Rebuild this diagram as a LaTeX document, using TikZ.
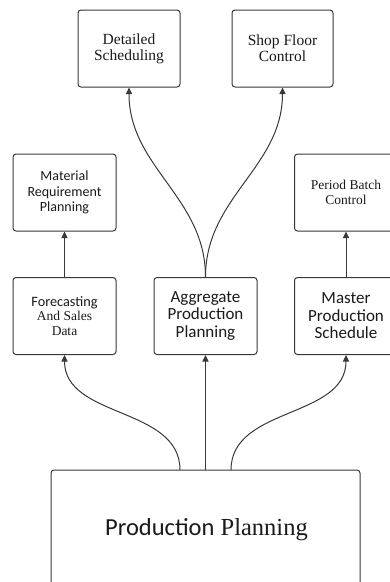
\documentclass[tikz,border=0pt]{standalone}
\usepackage{fontspec}
\setmainfont{Liberation Serif}
\newfontfamily\sansf{Carlito}
\usetikzlibrary{arrows.meta}
\definecolor{edge}{HTML}{383838}
\definecolor{ink}{HTML}{1A1A1A}
\tikzset{
  box/.style={draw=edge, line width=1pt, rounded corners=3pt, fill=white,
    minimum width=103pt, minimum height=77pt, align=center, text=ink,
    inner sep=1pt},
  link/.style={draw=edge, line width=1pt,
    -{Triangle[length=6.5pt, width=6pt]}},
  serifm/.style={font=\rmfamily\fontsize{15.5}{16}\selectfont},
  serifs/.style={font=\rmfamily\fontsize{13.5}{14.5}\selectfont},
  sanss/.style={font=\sansf\fontsize{14}{15.5}\selectfont},
  sansl/.style={font=\sansf\fontsize{17}{17.5}\selectfont},
}
\begin{document}
\begin{tikzpicture}[x=1pt, y=-1pt]
  \useasboundingbox (0,0) rectangle (390,582);
  \clip (0,0) rectangle (390,582);

  % top row
  \node[box, serifm, minimum width=102pt] (ds) at (129,48.5)
    {Detailed\\Scheduling};
  \node[box, serifm, minimum width=101pt] (sfc) at (282.5,48.5)
    {Shop Floor\\Control};

  % second row
  \node[box, sanss] (mrp) at (64.5,192.5)
    {Material\\Requirement\\Planning};
  \node[box, serifs] (pbc) at (346,192.5)
    {Period Batch\\Control};

  % third row
  \node[box, serifs] (fsd) at (64.5,316)
    {{\sansf\fontsize{14.3}{14.5}\selectfont Forecasting}\\And Sales\\Data};
  \node[box, sansl] (app) at (205.5,316)
    {Aggregate\\Production\\Planning};
  \node[box, sansl] (mps) at (346,316)
    {Master\\Production\\Schedule};

  % base box, running past the lower edge
  \node[box, minimum width=309pt, minimum height=124pt] (pp) at (205.5,532)
    {};
  \node[text=ink, anchor=base, font=\fontsize{24.5}{28}\selectfont] (ppt)
    at (206.5,535) {{\sansf Production} {\rmfamily Planning}};

  % connectors from the base box
  \coordinate (p1) at (180,470);
  \coordinate (p2) at (205.5,470);
  \coordinate (p3) at (231,470);
  \draw[link] (p1) to[out=90, in=-90] (fsd.south);
  \draw[link] (p2) -- (app.south);
  \draw[link] (p3) to[out=90, in=-90] (mps.south);

  % vertical links
  \draw[link] (fsd.north) -- (mrp.south);
  \draw[link] (mps.north) -- (pbc.south);

  % aggregate plan feeding the top row
  \draw[link] (app.north) to[out=90, in=-90] (ds.south);
  \draw[link] (app.north) to[out=90, in=-90] (sfc.south);
\end{tikzpicture}
\end{document}
